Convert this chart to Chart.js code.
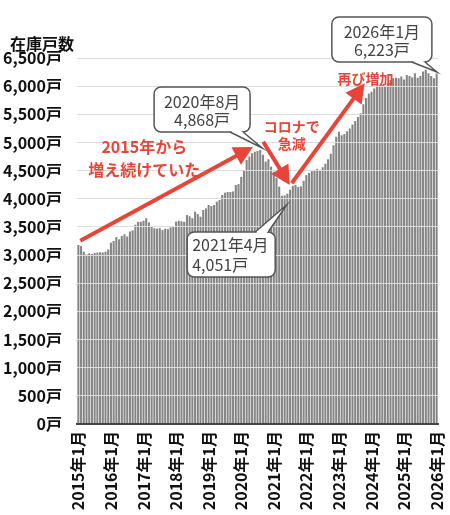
<!DOCTYPE html>
<html><head><meta charset="utf-8">
<script src="https://cdn.jsdelivr.net/npm/chart.js@4.4.1/dist/chart.umd.min.js"></script>
<style>html,body{margin:0;padding:0;background:#fff;}#wrap{width:450px;height:515px;}</style>
</head><body><div id="wrap"><canvas id="c" width="450" height="515"></canvas></div>
<script>
// ---- data ----
const categories = [];
for (let yr = 2015; yr <= 2026; yr++) {
  for (let m = 1; m <= 12; m++) {
    if (yr === 2026 && m > 1) break;
    categories.push(yr + '年' + m + '月');
  }
}
const tickLabels = ["2015年1月","2016年1月","2017年1月","2018年1月","2019年1月","2020年1月","2021年1月","2022年1月","2023年1月","2024年1月","2025年1月","2026年1月"];
const inventory = [
  3180,3160,3060,3010,3030,3020,3040,3045,3050,3045,3060,3100,
  3220,3250,3320,3280,3340,3370,3330,3420,3440,3540,3590,3590,
  3610,3655,3580,3505,3476,3470,3480,3445,3470,3460,3490,3510,
  3594,3610,3600,3590,3712,3690,3653,3771,3730,3682,3800,3830,
  3890,3870,3890,3948,3978,4067,4108,4120,4120,4130,4245,4260,
  4390,4510,4690,4750,4810,4835,4850,4868,4780,4660,4700,4570,
  4480,4370,4215,4051,4060,4090,4160,4230,4245,4210,4220,4320,
  4420,4460,4490,4510,4530,4500,4560,4620,4700,4800,4950,5100,
  5190,5130,5150,5200,5250,5320,5380,5450,5520,5680,5790,5870,
  5900,5960,5990,6020,6030,6000,6050,6110,6140,6150,6140,6170,
  6120,6200,6180,6160,6230,6150,6180,6260,6290,6230,6180,6140,
  6223
];
const yTickValues = [0,500,1000,1500,2000,2500,3000,3500,4000,4500,5000,5500,6000,6500];
const titleText = "在庫戸数";
const callouts = [
  {lines:["2020年8月","4,868戸"], at:[27.9,5985], w:96, tip:[67.7,4902], side:"bottom", align:"center"},
  {lines:["2021年4月","4,051戸"], at:[40.1,3410], w:88, tip:[76.7,3890], side:"top", align:"left"},
  {lines:["2026年1月","6,223戸"], at:[93.4,7228], w:100, tip:[132.1,6252], side:"bottom", align:"center"}
];
const arrows = [
  {from:[0.7,3255], to:[64.3,4920]},
  {from:[68.1,5014], to:[77.9,4245]},
  {from:[78.6,4275], to:[105.5,6051]}
];
const notes = [
  {lines:["2015年から","増え続けていた"], at:[24.3,4920], size:16, gap:23},
  {lines:["コロナで","急減"], at:[78.6,5275], size:14, gap:17},
  {lines:["再び増加"], at:[105.8,6125], size:14, gap:17}
];

const RED = '#e8453a';
const FONT = '"Noto Sans CJK JP", "Noto Sans", sans-serif';

function drawArrow(ctx, x1, y1, x2, y2) {
  const a = Math.atan2(y2 - y1, x2 - x1), L = 19, W = 10;
  const bx = x2 - L * Math.cos(a), by = y2 - L * Math.sin(a);
  ctx.strokeStyle = RED; ctx.lineWidth = 4; ctx.lineCap = 'butt';
  ctx.beginPath(); ctx.moveTo(x1, y1); ctx.lineTo(bx + Math.cos(a), by + Math.sin(a)); ctx.stroke();
  ctx.fillStyle = RED;
  ctx.beginPath(); ctx.moveTo(x2, y2);
  ctx.lineTo(bx + W * Math.sin(a), by - W * Math.cos(a));
  ctx.lineTo(bx - W * Math.sin(a), by + W * Math.cos(a));
  ctx.closePath(); ctx.fill();
}

function roundRect(ctx, x, y, w, h, r) {
  ctx.beginPath();
  ctx.moveTo(x + r, y); ctx.lineTo(x + w - r, y); ctx.arcTo(x + w, y, x + w, y + r, r);
  ctx.lineTo(x + w, y + h - r); ctx.arcTo(x + w, y + h, x + w - r, y + h, r);
  ctx.lineTo(x + r, y + h); ctx.arcTo(x, y + h, x, y + h - r, r);
  ctx.lineTo(x, y + r); ctx.arcTo(x, y, x + r, y, r);
  ctx.closePath();
}

const annotPlugin = {
  id: 'annot',
  afterDraw(chart) {
    const ctx = chart.ctx, xs = chart.scales.x, ys = chart.scales.y;
    const P = (p) => [xs.getPixelForValue(p[0]), ys.getPixelForValue(p[1])];
    ctx.save();
    // title
    ctx.font = 'bold 16px ' + FONT; ctx.fillStyle = '#111';
    ctx.textAlign = 'left'; ctx.textBaseline = 'middle';
    ctx.fillText(titleText, 10, 44);
    // arrows
    arrows.forEach(a => { const f = P(a.from), t = P(a.to); drawArrow(ctx, f[0], f[1], t[0], t[1]); });
    // red notes
    notes.forEach(n => {
      const c = P(n.at);
      ctx.font = 'bold ' + n.size + 'px ' + FONT; ctx.fillStyle = RED;
      ctx.textAlign = 'center'; ctx.textBaseline = 'middle';
      n.lines.forEach((l, k) => ctx.fillText(l, c[0], c[1] + k * n.gap));
    });
    // callouts
    ctx.font = '16px ' + FONT;
    callouts.forEach(c => {
      const tl = P(c.at), tip = P(c.tip);
      const h = 45, x = tl[0], y = tl[1], bw = c.w;
      ctx.fillStyle = '#fff'; ctx.strokeStyle = '#555'; ctx.lineWidth = 1.5;
      roundRect(ctx, x, y, bw, h, 7); ctx.fill(); ctx.stroke();
      const by = c.side === 'top' ? y : y + h;
      const b1 = [x + bw - 20, by], b2 = [x + bw - 7, by];
      ctx.beginPath(); ctx.moveTo(b1[0], b1[1]); ctx.lineTo(tip[0], tip[1]); ctx.lineTo(b2[0], b2[1]); ctx.closePath();
      ctx.fill();
      ctx.strokeStyle = '#fff'; ctx.lineWidth = 3;
      ctx.beginPath(); ctx.moveTo(b1[0] + 1.5, by); ctx.lineTo(b2[0] - 1.5, by); ctx.stroke();
      ctx.strokeStyle = '#555'; ctx.lineWidth = 1.5;
      ctx.beginPath(); ctx.moveTo(b1[0], b1[1]); ctx.lineTo(tip[0], tip[1]); ctx.lineTo(b2[0], b2[1]); ctx.stroke();
      ctx.fillStyle = '#444'; ctx.textBaseline = 'middle';
      if (c.align === 'left') {
        ctx.textAlign = 'left';
        c.lines.forEach((l, k) => ctx.fillText(l, x + 5, y + 13 + k * 19.5));
      } else {
        ctx.textAlign = 'center';
        c.lines.forEach((l, k) => ctx.fillText(l, x + bw / 2, y + 14.5 + k * 18.5));
      }
    });
    ctx.restore();
  }
};

new Chart(document.getElementById('c'), {
  type: 'bar',
  data: {
    labels: categories,
    datasets: [{
      data: inventory,
      backgroundColor: '#858585',
      borderColor: '#666',
      borderWidth: 0,
      barPercentage: 0.76,
      categoryPercentage: 1.0
    }]
  },
  options: {
    responsive: false,
    animation: false,
    layout: { padding: { left: 0, right: 12, top: 58, bottom: 0 } },
    plugins: { legend: { display: false }, tooltip: { enabled: false } },
    scales: {
      x: {
        grid: { display: false, drawTicks: false },
        border: { display: true, color: '#444', width: 2, z: 2 },
        afterFit: (s) => { s.height = 91; s.paddingLeft = 0; s.paddingRight = 0; },
        ticks: {
          autoSkip: false, minRotation: 90, maxRotation: 90, padding: 7,
          color: '#111', font: { family: FONT, size: 16, weight: 'bold' },
          callback: function (v, i) { return tickLabels.includes(categories[i]) ? categories[i] : ''; }
        }
      },
      y: {
        min: 0, max: 6500,
        afterFit: (s) => { s.width = 77; s.paddingTop = 0; s.paddingBottom = 0; },
        afterBuildTicks: (s) => { s.ticks = yTickValues.map(v => ({ value: v })); },
        grid: { color: '#dcdcdc', lineWidth: 1, drawTicks: false, z: 1 },
        border: { display: false },
        ticks: {
          padding: 15, color: '#111', font: { family: FONT, size: 16, weight: 'bold' },
          callback: (v) => v.toLocaleString('en-US') + '戸'
        }
      }
    }
  },
  plugins: [annotPlugin]
});
</script></body></html>
